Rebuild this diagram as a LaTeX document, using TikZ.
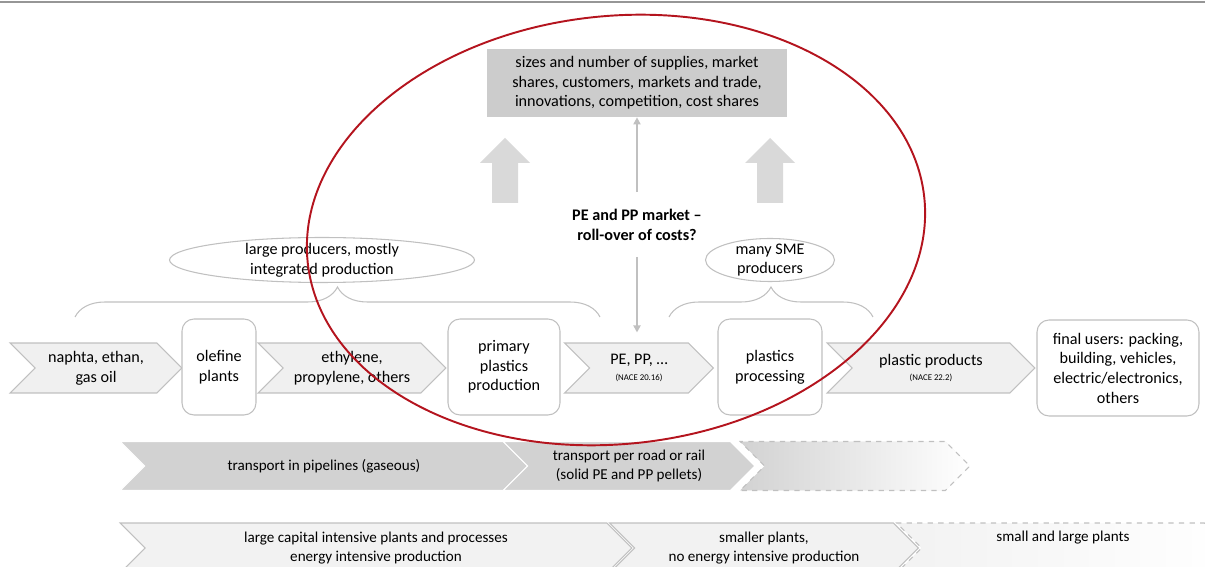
\documentclass[tikz,border=0pt]{standalone}
\usepackage{fontspec}
\setmainfont{Carlito}
\usetikzlibrary{shapes.symbols,shapes.geometric,decorations.pathreplacing,arrows.meta}

\definecolor{ringred}{RGB}{180,20,30}
\definecolor{edgegray}{RGB}{192,192,192}
\definecolor{chevfill}{RGB}{240,240,240}
\definecolor{infogray}{RGB}{204,204,204}
\definecolor{bargray}{RGB}{210,210,210}
\definecolor{blockgray}{RGB}{217,217,217}
\definecolor{platefill}{RGB}{242,242,242}
\definecolor{rulegray}{RGB}{150,150,150}

\begin{document}
\begin{tikzpicture}[x=0.02cm,y=-0.02cm]
\tikzstyle{every node}=[align=center,font=\fontsize{9.2}{11.2}\selectfont]
\tikzstyle{chev}=[shape=signal,signal from=west,signal to=east,signal pointer angle=90,draw=edgegray,line width=0.6pt,fill=chevfill,minimum height=1cm,inner sep=0pt]
\tikzstyle{stage}=[draw=edgegray,line width=0.6pt,fill=white,rounded corners=0.24cm,minimum height=1.92cm,inner sep=0pt]
\tikzstyle{bubble}=[shape=ellipse,draw=edgegray,line width=0.6pt,fill=white,inner xsep=0pt,inner ysep=-2.5pt]
\tikzstyle{bar}=[chev,draw=white,fill=bargray,minimum height=0.98cm,font=\fontsize{8.6}{10.6}\selectfont]
\tikzstyle{fadebar}=[chev,draw=edgegray,dashed,left color=bargray,right color=white,minimum height=0.98cm]
\tikzstyle{plate}=[chev,fill=platefill,font=\fontsize{8.6}{10.6}\selectfont]
\tikzstyle{fadeplate}=[plate,dashed,left color=platefill,right color=white]
\tikzstyle{curly}=[draw=edgegray,line width=0.6pt,decorate,decoration={brace,amplitude=0.6cm}]
\tikzstyle{thinarrow}=[draw=edgegray,line width=1pt,-{Triangle[length=4pt,width=4pt]}]
\useasboundingbox (0,0) rectangle (1205,567);
\draw[rulegray,line width=1.2pt] (0,2) -- (1205,2);

% market box and arrows
\path (637,83) node[fill=infogray,minimum width=6.02cm,minimum height=1.36cm](info){sizes and number of supplies, market\\shares, customers, markets and trade,\\innovations, competition, cost shares};
\path (637,225) node[font=\fontsize{9.2}{11.2}\selectfont\bfseries](mkt){PE and PP market \textendash\\roll-over of costs?};
\fill[blockgray] (480,163) -- (505,138) -- (530,163) -- (518,163) -- (518,203) -- (492,203) -- (492,163) -- cycle;
\fill[blockgray] (745,163) -- (770,138) -- (795,163) -- (783,163) -- (783,203) -- (757,203) -- (757,163) -- cycle;

% producers
\path (322,260) node[bubble,minimum width=6.1cm,minimum height=0.9cm](lp){large producers, mostly\\integrated production}
  (770,260) node[bubble,minimum width=2.58cm,minimum height=0.86cm](sme){many SME\\producers};
\coordinate (lpa) at (75,317); \coordinate (lpb) at (600,317);
\coordinate (smea) at (669,317); \coordinate (smeb) at (873,317);
\draw[curly] (lpa) -- (lpb);
\draw[curly] (smea) -- (smeb);

% value chain
\path (96,368) node[chev,minimum width=3.44cm](c1){naphta, ethan,\\gas oil}
  (219,367) node[stage,minimum width=1.48cm](b1){olefine\\plants}
  (352,368) node[chev,minimum width=3.76cm](c2){ethylene,\\propylene, others}
  (504,367) node[stage,minimum width=2.24cm](b2){primary\\plastics\\production}
  (639,368) node[chev,minimum width=2.98cm](c3){PE, PP, \dots\\[-2.5pt]{\fontsize{5}{6}\selectfont (NACE 20.16)}}
  (770,367) node[stage,minimum width=2.08cm](b3){plastics\\processing}
  (931,368) node[chev,minimum width=4.16cm](c4){plastic products\\[-2.5pt]{\fontsize{5}{6}\selectfont (NACE 22.2)}}
  (1118,368) node[stage,minimum width=3.24cm](b4){final users: packing,\\building, vehicles,\\electric/electronics,\\others};
\draw[thinarrow,shorten <=0.22cm] (mkt) -- (info);
\draw[thinarrow,shorten <=0.2cm,shorten >=0.2cm] (mkt) -- (mkt |- c3.north);

% transport
\path (324,466) node[bar,minimum width=8.16cm](t1){transport in pipelines (gaseous)}
  (629,466) node[bar,minimum width=5.04cm](t2){transport per road or rail\\(solid PE and PP pellets)}
  (855,466) node[fadebar,minimum width=4.6cm](t3){};

% plants
\path (376,548) node[plate,minimum width=10.24cm](r1){large capital intensive plants and processes\\energy intensive production}
  (764,548) node[plate,minimum width=6.18cm](r2){smaller plants,\\no energy intensive production}
  (1063,548) node[fadeplate,minimum width=6.66cm](r3){small and large plants\\\strut};

\draw[ringred,line width=1.1pt,rotate around={6:(616,230)}] (616,230) ellipse [x radius=310,y radius=214];
\end{tikzpicture}
\end{document}
